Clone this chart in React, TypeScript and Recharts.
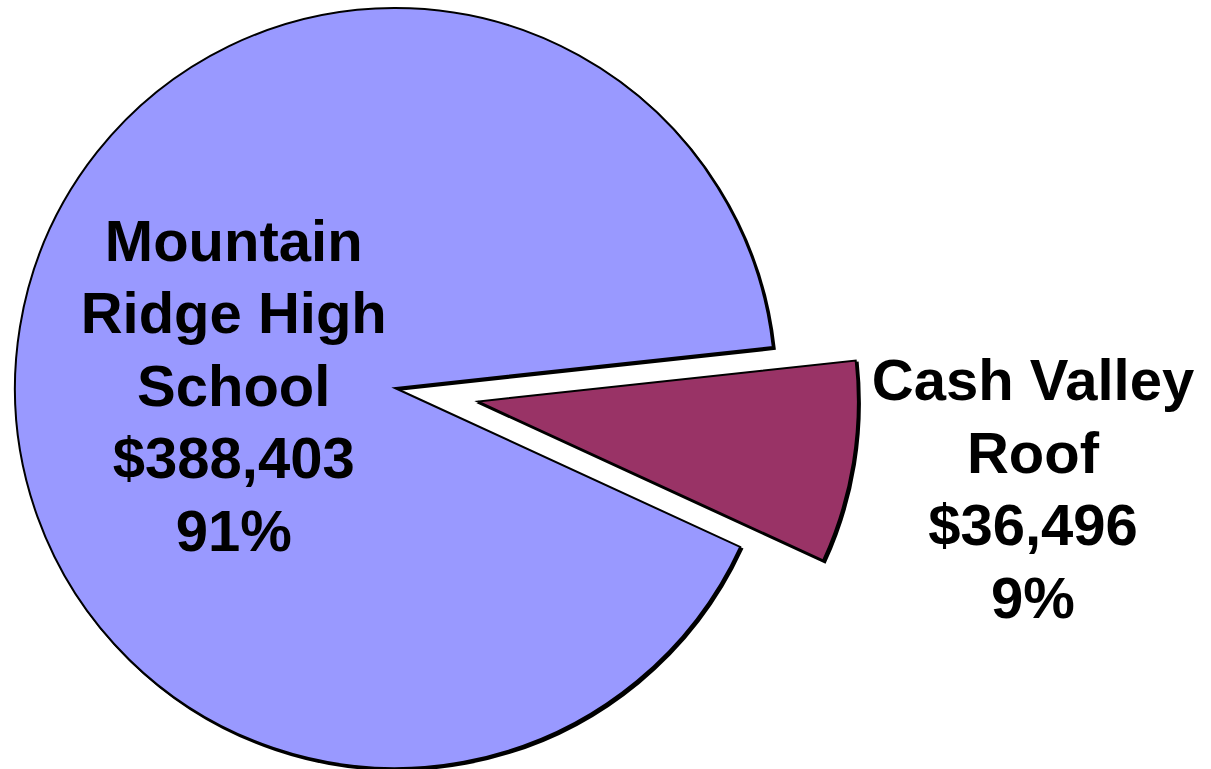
import { Cell, Pie, PieChart } from 'recharts';

// Project costs
const projects = ['Mountain Ridge High School', 'Cash Valley Roof'];
const projectLines = [
  ['Mountain', 'Ridge High', 'School'],
  ['Cash Valley', 'Roof'],
];
const costs = [388403, 36496];

const COLORS = ['#9999FF', '#993366'];
const START = 6.2; // first slice starts just above 3 o'clock
const EXPLODE = 84; // px the small slice is pulled out
const CX = 395;
const CY = 388;
const R = 380;
const FONT = '"Liberation Sans", Arial, sans-serif';
const LINE_H = 72.5;

const data = projects.map((name, i) => ({ name, value: costs[i], lines: projectLines[i] }));
const total = costs.reduce((s, v) => s + v, 0);
const usd = (n: number) => `$${n.toLocaleString('en-US')}`;

// mid angle of the exploded slice, in recharts degrees (ccw, y up)
const cashMid = START + (360 * costs[0]) / total + (180 * costs[1]) / total;
const RAD = Math.PI / 180;
const cashCx = CX + EXPLODE * Math.cos(cashMid * RAD);
const cashCy = CY - EXPLODE * Math.sin(cashMid * RAD);

// label sits at a fraction of the radius along the slice's mid angle, nudged vertically
function makeLabel(only: number, dist: number, nudge: number) {
  return (props: any) => {
    const { cx, cy, midAngle, outerRadius, percent, index, payload } = props;
    if (index !== only) return null;
    const x = cx + outerRadius * dist * Math.cos(-midAngle * RAD);
    const y = cy + outerRadius * dist * Math.sin(-midAngle * RAD) + nudge;
    const rows = [...payload.lines, usd(payload.value), `${Math.round(percent * 100)}%`];
    const top = y - ((rows.length - 1) * LINE_H) / 2;
    return (
      <text
        key={`lbl-${only}`}
        x={x}
        textAnchor="middle"
        dominantBaseline="central"
        fontFamily={FONT}
        fontWeight="bold"
        fontSize={58}
        fill="#000"
      >
        {rows.map((r: string, i: number) => (
          <tspan key={i} x={x} y={top + i * LINE_H}>
            {r}
          </tspan>
        ))}
      </text>
    );
  };
}

export default function App() {
  return (
    <div style={{ position: 'absolute', left: 0, top: 0, width: 1211, height: 769, background: '#fff' }}>
      <style>{`.recharts-pie-sector path { filter: drop-shadow(2px 2px 0 #000); }`}</style>
      <PieChart width={1211} height={769} margin={{ top: 0, right: 0, bottom: 0, left: 0 }}>
        <Pie
          data={data}
          dataKey="value"
          nameKey="name"
          cx={CX}
          cy={CY}
          outerRadius={R}
          startAngle={START}
          endAngle={START + 360}
          stroke="#000"
          strokeWidth={2}
          labelLine={false}
          label={makeLabel(0, 0.43, 23)}
          isAnimationActive={false}
        >
          {data.map((_, i) => (
            <Cell key={i} fill={i === 0 ? COLORS[0] : 'none'} stroke={i === 0 ? '#000' : 'none'} />
          ))}
        </Pie>
        <Pie
          data={data}
          dataKey="value"
          nameKey="name"
          cx={cashCx}
          cy={cashCy}
          outerRadius={R}
          startAngle={START}
          endAngle={START + 360}
          stroke="#000"
          strokeWidth={2}
          labelLine={false}
          label={makeLabel(1, 1.48, -4)}
          isAnimationActive={false}
        >
          {data.map((_, i) => (
            <Cell key={i} fill={i === 1 ? COLORS[1] : 'none'} stroke={i === 1 ? '#000' : 'none'} />
          ))}
        </Pie>
      </PieChart>
    </div>
  );
}
